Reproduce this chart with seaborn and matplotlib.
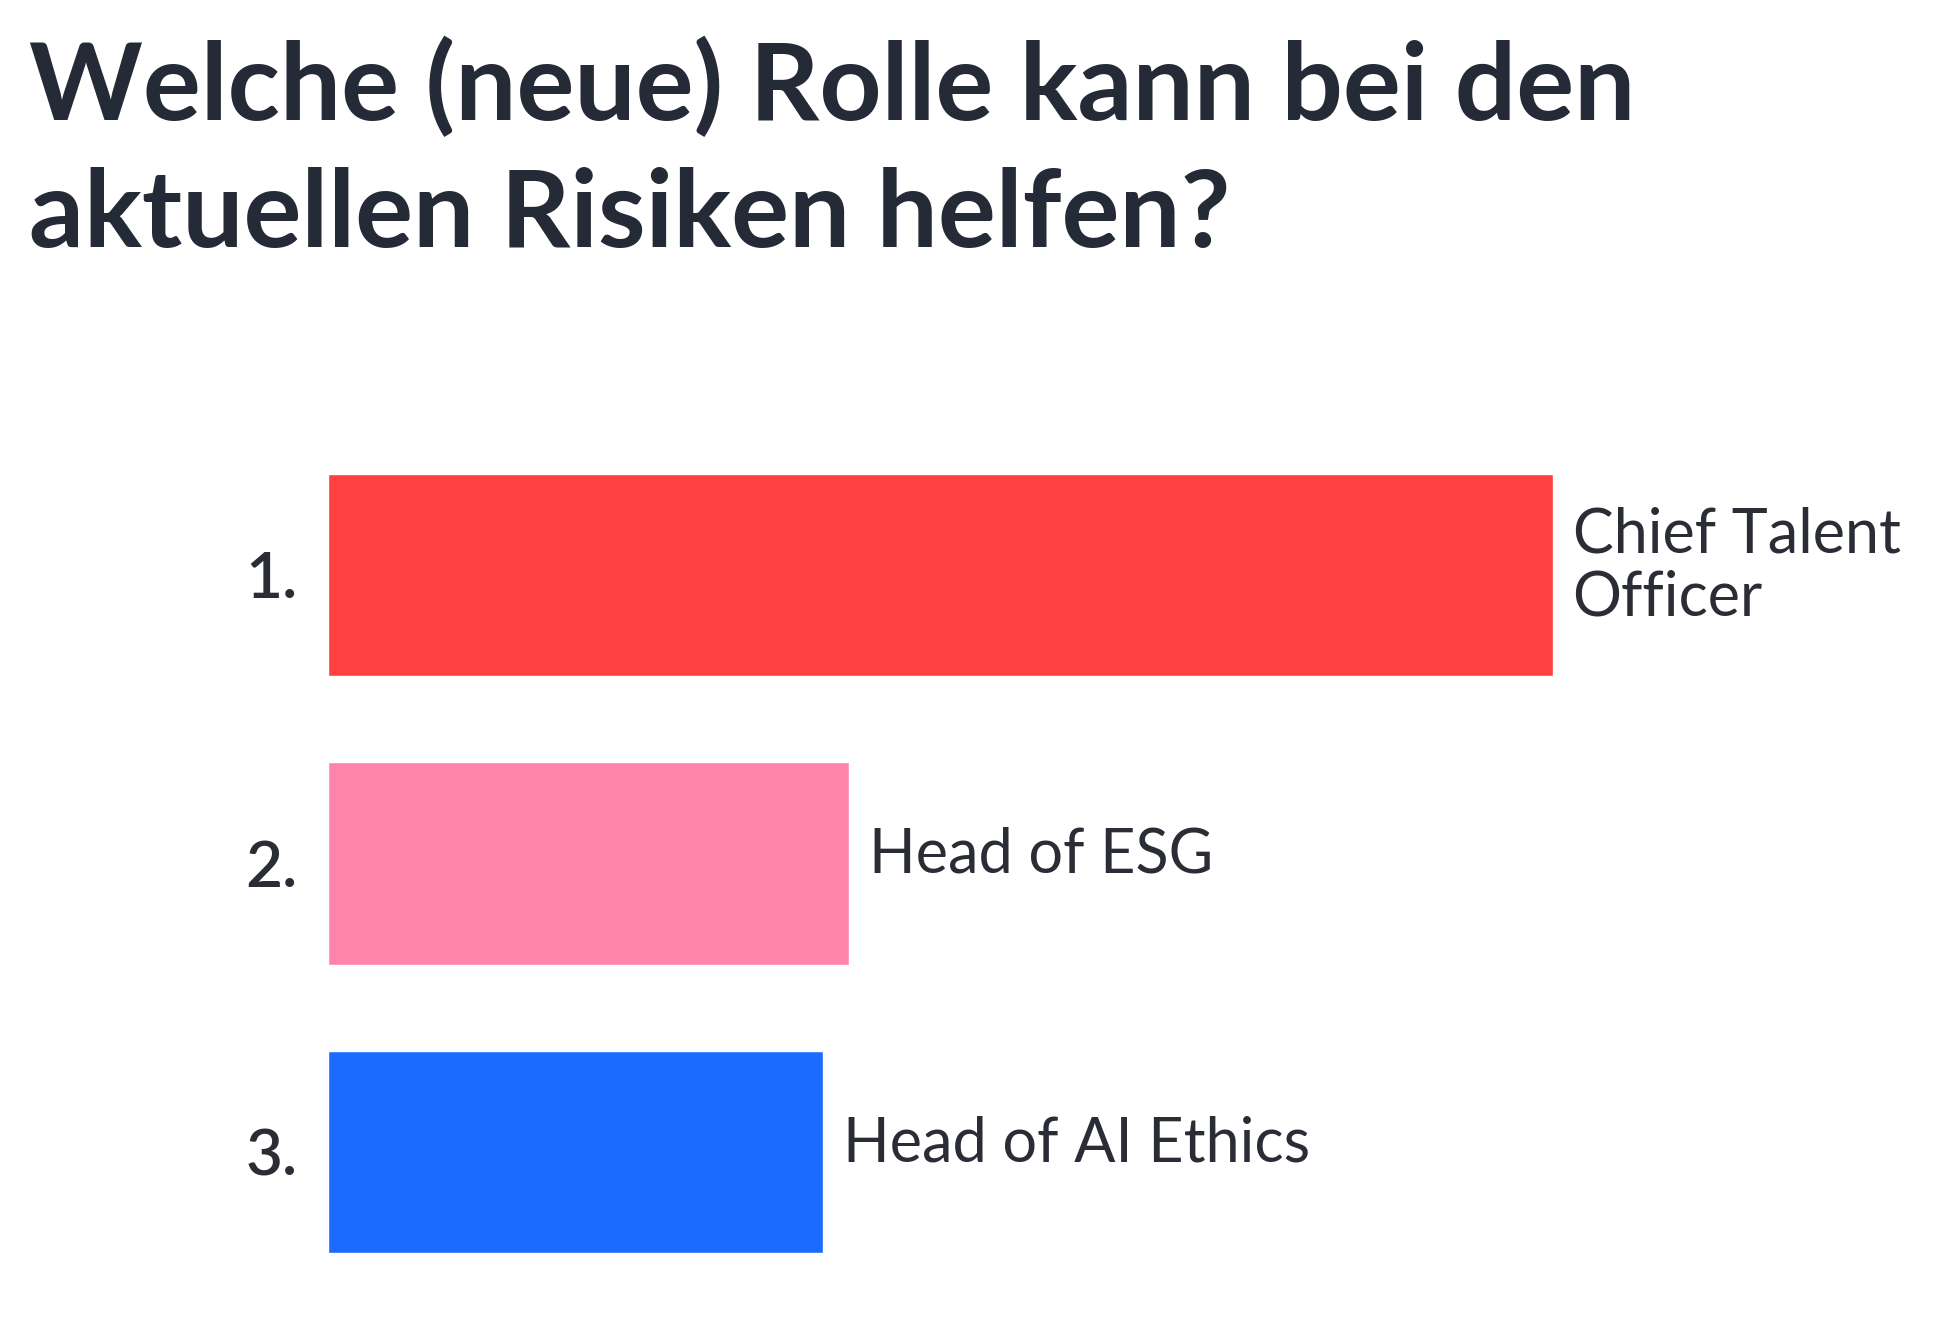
import matplotlib
matplotlib.use("Agg")
import matplotlib.pyplot as plt
import seaborn as sns
import pandas as pd

# Data
roles = ["Chief Talent\nOfficer", "Head of ESG", "Head of AI Ethics"]
ranks = ["1.", "2.", "3."]
values = [47, 20, 19]
colors = ["#FF4040", "#FF84AB", "#1C6BFF"]
title_lines = ["Welche (neue) Rolle kann bei den", "aktuellen Risiken helfen?"]

sns.set_theme(style="white")
plt.rcParams['font.family'] = ['Lato', 'DejaVu Sans']

df = pd.DataFrame({"role": roles, "value": values})

W, H = 1936, 1319
fig = plt.figure(figsize=(W / 100, H / 100), dpi=100)
ax_left = 328 / W
ax_right = 1892 / W
ax_top = 1 - 430.5 / H
ax_bottom = 1 - 1296.5 / H
ax = fig.add_axes([ax_left, ax_bottom, ax_right - ax_left, ax_top - ax_bottom])

sns.barplot(data=df, y="role", x="value", hue="role", palette=colors,
            order=roles, hue_order=roles, width=0.70, legend=False, ax=ax,
            saturation=1)
ax.set_xlim(0, 60)
ax.set_ylim(2.5, -0.5)
for s in ax.spines.values():
    s.set_visible(False)
ax.set_xticks([])
ax.set_xlabel("")
ax.set_ylabel("")
ax.set_yticks(range(len(ranks)))
ax.set_yticklabels(ranks, fontsize=46, color="#2a2d36", fontweight="semibold")
ax.tick_params(axis="y", length=0, pad=22)

text_color = "#2a2d36"
for i, (r, v) in enumerate(zip(roles, values)):
    ax.annotate(r, xy=(v, i), xytext=(14, 6), textcoords="offset points",
                ha="left", va="center", fontsize=44, color=text_color,
                linespacing=1.12)

baselines = [120, 247]
for line, b in zip(title_lines, baselines):
    fig.text(29 / W, 1 - b / H, line, ha="left", va="baseline",
             fontsize=78, fontweight="bold", color="#252a37")

fig.savefig("out.png", dpi=100, facecolor="white")
